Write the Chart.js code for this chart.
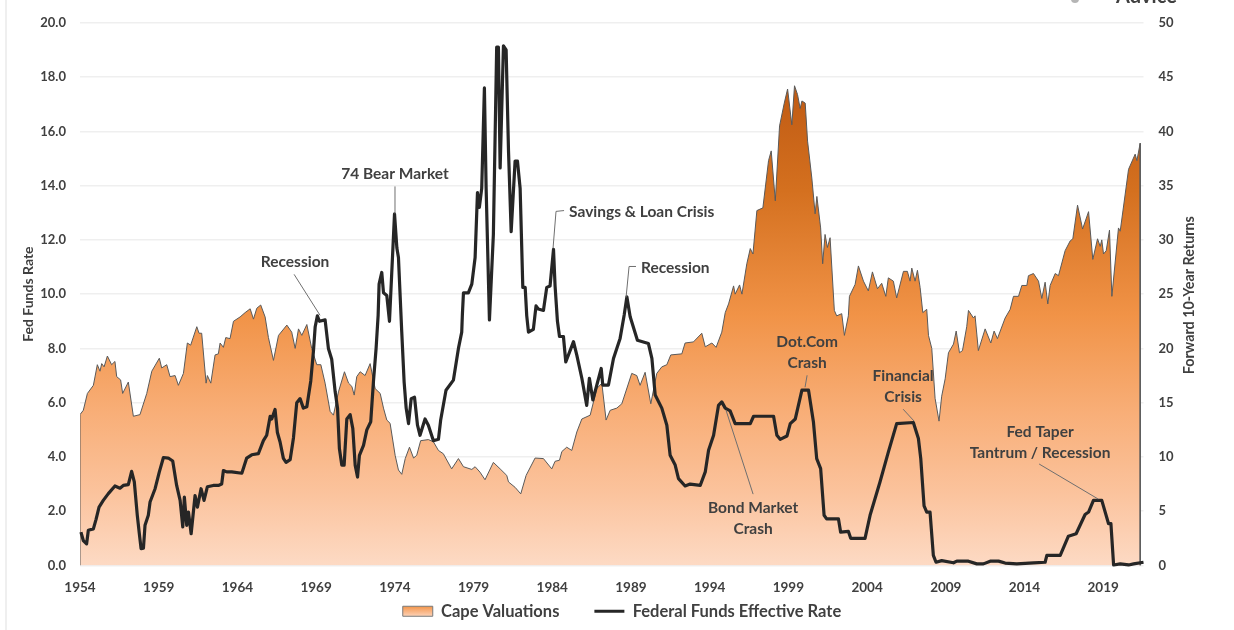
<!DOCTYPE html>
<html>
<head>
<meta charset="utf-8">
<title>Cape Valuations vs Federal Funds Effective Rate</title>
<script src="https://cdn.jsdelivr.net/npm/chart.js@4"></script>
<style>
html,body{margin:0;padding:0;background:#fff;overflow:hidden}
#wrap{position:relative;width:1234px;height:630px}
#edge{position:absolute;left:5px;top:0;width:2px;height:630px;background:#efefef}
canvas{position:absolute;left:0;top:0;filter:blur(0.55px)}
</style>
</head>
<body>
<div id="wrap"><canvas id="c" width="1234" height="630"></canvas><div id="edge"></div></div>
<script>
const xTickYears=[1954,1959,1964,1969,1974,1979,1984,1989,1994,1999,2004,2009,2014,2019];
const xMin=1954, xMax=2021.56;

const capeYears=[1954,1954,1954.21,1954.47,1954.85,1955.10,1955.27,1955.38,1955.53,1955.74,1956.01,1956.22,1956.33,1956.58,1956.71,1957.07,1957.39,1957.81,1958.24,1958.56,1959.04,1959.19,1959.51,1959.72,1960.04,1960.25,1960.57,1960.82,1961.03,1961.42,1961.56,1961.73,1962.01,1962.09,1962.31,1962.58,1962.79,1962.90,1963.11,1963.26,1963.53,1963.75,1964.17,1964.49,1964.81,1965.02,1965.23,1965.48,1965.76,1965.97,1966.29,1966.61,1967.14,1967.45,1967.67,1967.88,1968.09,1968.41,1968.72,1969.04,1969.30,1969.57,1969.89,1970.10,1970.42,1970.80,1971.06,1971.27,1971.42,1971.58,1971.80,1972.11,1972.43,1972.75,1973.07,1973.28,1973.49,1973.70,1974.02,1974.23,1974.44,1974.66,1974.93,1975.19,1975.39,1975.64,1976.13,1976.45,1976.77,1977.08,1977.61,1978.04,1978.36,1978.89,1979.10,1979.41,1979.73,1980.26,1980.69,1981.11,1981.22,1981.64,1982.00,1982.34,1982.91,1983.44,1983.97,1984.18,1984.46,1984.61,1984.92,1985.24,1985.56,1985.88,1986.41,1986.83,1987.15,1987.42,1987.68,1988.10,1988.42,1989.05,1989.37,1989.58,1989.90,1990.26,1990.64,1990.96,1991.28,1991.53,1992.23,1992.44,1992.97,1993.50,1993.72,1994.14,1994.41,1994.77,1994.99,1995.20,1995.52,1995.62,1995.90,1996.05,1996.36,1996.58,1996.75,1997.00,1997.38,1997.74,1997.91,1998.17,1998.44,1998.74,1998.95,1999.22,1999.39,1999.58,1999.75,1999.86,2000.07,2000.22,2000.49,2000.70,2000.81,2001.05,2001.18,2001.33,2001.48,2001.65,2001.92,2002.07,2002.39,2002.56,2002.81,2002.88,2003.24,2003.45,2003.77,2004.08,2004.34,2004.66,2004.93,2005.19,2005.35,2005.67,2005.88,2006.31,2006.56,2006.73,2006.84,2007.05,2007.20,2007.37,2007.54,2007.79,2007.90,2008.11,2008.32,2008.57,2008.74,2008.96,2009.17,2009.49,2009.66,2009.87,2010.06,2010.33,2010.44,2010.76,2010.86,2011.07,2011.50,2011.86,2012.07,2012.28,2012.77,2013.09,2013.30,2013.62,2013.83,2014.15,2014.25,2014.57,2014.89,2015.10,2015.31,2015.48,2015.63,2015.95,2016.16,2016.58,2016.90,2017.07,2017.37,2017.69,2018.07,2018.34,2018.64,2018.81,2018.91,2019.02,2019.19,2019.40,2019.55,2019.97,2020.08,2020.61,2021.03,2021.14,2021.35,2021.35];
const capeValues=[0,13.9,14.3,15.85,16.6,18.5,17.9,18.6,18.3,19.3,18.5,18.8,17.4,17.1,15.85,16.9,13.75,13.9,15.85,17.9,19.1,18.2,18.5,17.4,17.5,16.6,17.7,20.5,20.3,22.0,21.4,21.4,16.8,17.5,16.8,19.4,19.5,20.5,20.1,21.0,20.9,22.5,22.9,23.3,23.65,22.7,23.7,24.0,22.9,21.0,18.9,21.2,22.15,21.5,20.0,21.8,21.2,22.2,20.0,18.5,18.5,16.8,14.2,13.85,16.0,17.85,16.8,16.5,15.7,17.4,17.85,17.5,18.6,16.3,15.85,14.5,13.4,13.1,10.15,8.8,8.4,9.85,10.9,9.9,10.15,11.5,11.6,11.4,10.6,10.3,8.9,9.85,9.1,8.85,9.1,8.6,7.9,9.5,8.9,8.3,7.7,7.2,6.6,8.3,9.9,9.85,8.9,9.6,9.7,10.5,10.9,10.6,12.3,13.5,13.85,16.3,16.8,13.4,14.3,14.5,14.9,17.7,17.5,16.6,17.8,14.9,17.7,18.3,18.5,19.4,19.5,20.5,20.6,21.4,20.15,20.5,20.1,21.5,23.3,24.1,25.76,25,25.85,25,27.8,29.2,28.7,32.7,32.95,37.3,38.2,33.6,40.5,42.6,43.9,40.6,44.2,43.4,42.1,42.8,42.6,39.1,35.7,32.4,34,31.1,27.8,30.5,29.3,30.2,23.5,23,23.2,21.2,23,24.8,25.9,27.6,26.2,25.3,27.05,25.5,26,24.8,26.5,26.2,24.65,27.1,27.1,26.2,27.4,26.2,27.2,25.6,23.3,23.6,21.2,20,15.4,13.3,15.6,17.2,19.6,20.4,21.6,19.6,19.8,22,23.5,22.8,23,19.8,21.8,20.5,21.6,20.9,22.8,23.6,24.8,24.8,25.8,25.8,26.7,26.9,26.2,24.6,26.1,24.1,25.8,26.9,26.7,29,29.9,30.1,33.2,31,32.6,28.2,30.1,29.4,30,28.7,29.0,30.9,24.8,31.1,30.8,36.5,37.9,37.3,38.9,0];

const fundsYears=[1954.06,1954.21,1954.42,1954.53,1954.85,1955.02,1955.21,1955.48,1955.80,1956.22,1956.54,1956.75,1957.07,1957.28,1957.45,1957.64,1957.77,1957.88,1958.03,1958.13,1958.34,1958.45,1958.77,1959.04,1959.30,1959.61,1959.89,1960.14,1960.36,1960.53,1960.63,1960.78,1960.89,1961.06,1961.31,1961.46,1961.69,1961.88,1962.09,1962.47,1962.79,1963.00,1963.11,1963.32,1963.64,1964.28,1964.59,1964.91,1965.33,1965.65,1965.86,1966.08,1966.18,1966.39,1966.54,1966.71,1966.92,1967.09,1967.35,1967.56,1967.77,1967.98,1968.19,1968.41,1968.66,1968.83,1968.94,1969.08,1969.21,1969.57,1969.78,1969.99,1970.21,1970.36,1970.48,1970.63,1970.78,1970.95,1971.16,1971.33,1971.48,1971.63,1971.75,1972.01,1972.22,1972.47,1972.64,1972.81,1972.94,1973.00,1973.17,1973.28,1973.49,1973.66,1973.98,1974.13,1974.23,1974.44,1974.59,1974.72,1974.87,1975.04,1975.25,1975.44,1975.60,1975.92,1976.13,1976.45,1976.77,1976.91,1977.25,1977.72,1978.04,1978.25,1978.29,1978.36,1978.67,1978.89,1979.10,1979.25,1979.37,1979.52,1979.69,1979.80,1980.01,1980.26,1980.47,1980.58,1980.69,1980.90,1981.07,1981.22,1981.39,1981.64,1981.79,1981.96,1982.13,1982.28,1982.38,1982.49,1982.80,1982.97,1983.12,1983.44,1983.65,1983.86,1984.08,1984.18,1984.33,1984.46,1984.71,1984.86,1985.35,1985.56,1985.88,1986.19,1986.36,1986.58,1986.83,1987.11,1987.21,1987.57,1987.89,1988.31,1988.57,1988.74,1988.95,1989.41,1990.11,1990.33,1990.54,1990.96,1991.28,1991.49,1991.81,1992.02,1992.44,1992.76,1993.40,1993.72,1993.93,1994.25,1994.56,1994.77,1994.99,1995.30,1995.62,1996.58,1996.79,1998.06,1998.27,1998.48,1998.91,1999.12,1999.44,1999.86,2000.28,2000.59,2000.80,2001.05,2001.27,2001.43,2002.18,2002.32,2002.81,2002.96,2003.87,2004.19,2004.82,2005.35,2005.88,2006.94,2007.26,2007.41,2007.62,2007.79,2008.00,2008.21,2008.38,2008.74,2009.49,2009.70,2010.44,2010.97,2011.39,2011.82,2012.35,2012.77,2013.51,2014.57,2015.31,2015.42,2016.27,2016.79,2017.28,2017.85,2018.07,2018.38,2018.91,2019.34,2019.49,2019.66,2020.08,2020.61,2020.93,2021.56];
const fundsValues=[1.23,.92,.8,1.3,1.35,1.7,2.15,2.4,2.65,2.93,2.85,2.95,2.98,3.47,3.08,1.85,1.17,.62,.64,1.48,1.85,2.34,2.83,3.45,3.98,3.96,3.85,2.95,2.4,1.42,2.52,1.48,1.97,1.17,2.58,2.15,2.83,2.4,2.9,2.95,2.95,3.0,3.5,3.45,3.45,3.4,3.96,4.08,4.12,4.6,4.8,5.5,5.4,5.75,4.9,4.55,3.95,3.8,3.9,4.7,6.0,6.15,5.8,5.85,6.8,7.9,8.8,9.2,9.0,9.05,8.0,7.6,6.4,5.8,4.3,3.7,3.7,5.4,5.56,5.05,3.7,3.26,4.06,4.43,5,5.3,6.77,8,9.23,10.37,10.8,10.05,9.95,9.0,12.96,11.7,11.35,8.6,6.77,5.8,5.23,6.15,6.2,5.17,4.8,5.4,5.17,4.6,4.65,5.35,6.46,6.83,8,8.6,9.23,10.05,10.05,10.37,11.35,13.74,13.2,13.9,17.6,13.9,9.05,12.2,19.1,19.1,14.65,19.15,19.0,15.3,12.3,14.9,14.9,13.9,10.25,10.25,9.2,8.6,8.7,9.57,9.45,9.4,10.25,10.3,11.65,10.3,9.0,8.44,8.44,7.5,8.25,7.75,6.9,5.9,6.9,6.1,6.65,7.26,6.65,6.65,7.63,8.37,9.23,9.9,9.17,8.3,8.18,7.63,6.28,5.8,5.17,4.06,3.7,3.2,2.93,3.0,2.95,3.45,4.25,4.8,5.9,6.03,5.8,5.7,5.23,5.23,5.5,5.5,4.8,4.65,4.77,5.23,5.4,6.46,6.46,5.3,3.94,3.57,1.85,1.72,1.72,1.23,1.26,1.0,1.0,1.85,3.08,4.18,5.23,5.27,4.68,3.94,2.2,1.97,1.97,.37,.12,.18,.1,.16,.16,.06,.06,.16,.16,.09,.06,.1,.12,.37,.37,1.08,1.17,1.88,1.97,2.4,2.4,1.54,1.54,.02,.06,.02,.06,.12];

const noteLines=[["74 Bear Market"],["Recession"],["Savings & Loan Crisis"],["Recession"],["Dot.Com","Crash"],["Financial","Crisis"],["Fed Taper","Tantrum / Recession"],["Bond Market","Crash"]];
const noteYears=[1974.01,1967.66,1985.07,1989.64,2000.19,2006.29,2014.99,1996.76];
const noteValues=[14.41,11.17,13.01,10.95,8.23,6.97,4.91,2.12];
const noteAlign=["center","center","left","left","center","center","center","center"];
const noteLeaderYears=[[1974.01,1974.01],[1967.6,1969.25],[1984.75,1984.24,1984.05],[1989.32,1988.88,1988.69],[2000.19,2000.06],[2006.29,2006.99],[2014.93,2018.68],[1996.76,1995.04]];
const noteLeaderValues=[[13.97,12.97],[10.73,9.22],[13.08,13.05,11.69],[11.02,11.02,9.88],[7.01,6.57],[5.76,5.32],[3.74,2.45],[2.63,5.72]];

const FONT='Lato, Carlito, sans-serif';
const TEXT='#404040';

function pairs(xs,ys){return xs.map((x,i)=>({x:x,y:ys[i]}));}
function areaGradient(ctx,top,bottom){
  const g=ctx.createLinearGradient(0,top,0,bottom);
  g.addColorStop(0,'#BF5A13');
  g.addColorStop(0.22,'#D4701F');
  g.addColorStop(0.48,'#F19347');
  g.addColorStop(0.68,'#F8AE77');
  g.addColorStop(0.85,'#FBC39D');
  g.addColorStop(1,'#FDDAC4');
  return g;
}

const overlay={
  id:'overlay',
  beforeLayout(chart){
    const L=chart.legend;
    if(!L.__fixed){
      const fit=L.fit;
      L.fit=function(){fit.call(this);this.height=29.5;};
      L.__fixed=true;
    }
  },
  afterLayout(chart){
    const L=chart.legend;
    L.left+=5;L.right+=5;L.top=568;
  },
  afterDatasetsDraw(chart){
    const c=chart.ctx,X=chart.scales.x,Y=chart.scales.y;
    c.save();
    noteLines.forEach((lines,i)=>{
      c.strokeStyle='#6f6f6f';c.lineWidth=1;c.beginPath();
      noteLeaderYears[i].forEach((yr,j)=>{
        const px=X.getPixelForValue(yr),py=Y.getPixelForValue(noteLeaderValues[i][j]);
        if(j===0)c.moveTo(px,py);else c.lineTo(px,py);
      });
      c.stroke();
      c.fillStyle=TEXT;c.font='bold 15.5px '+FONT;c.textAlign=noteAlign[i];c.textBaseline='middle';
      const px=X.getPixelForValue(noteYears[i]),py=Y.getPixelForValue(noteValues[i]);
      const step=Y.getPixelForValue(0)-Y.getPixelForValue(0.77);
      lines.forEach((t,k)=>c.fillText(t,px,py+k*step));
    });
    c.restore();
  },
  afterDraw(chart){
    const c=chart.ctx,R=chart.scales.y1;
    c.save();
    c.fillStyle=TEXT;c.font='bold 14.3px '+FONT;c.textAlign='center';c.textBaseline='middle';
    c.translate(1189,(R.top+R.bottom)/2+1);c.rotate(-Math.PI/2);
    c.fillText('Forward 10-Year Returns',0,0);
    c.restore();
    c.save();
    c.fillStyle=TEXT;c.font='bold 20px '+FONT;c.textAlign='left';c.textBaseline='alphabetic';
    c.fillText('Advice',1116,3);
    c.fillStyle='#b5b5b5';c.beginPath();c.arc(1075,-1,4,0,Math.PI*2);c.fill();
    c.restore();
  }
};

new Chart(document.getElementById('c'),{
  type:'line',
  data:{datasets:[
    {label:'Cape Valuations',yAxisID:'y1',data:pairs(capeYears,capeValues),order:2,
     borderColor:'#5a5a5a',borderWidth:1,pointRadius:0,tension:0,fill:'origin',
     backgroundColor(ctx){
       const a=ctx.chart.chartArea;
       if(!a)return '#F19347';
       return areaGradient(ctx.chart.ctx,a.top+62,a.bottom);
     }},
    {label:'Federal Funds Effective Rate',yAxisID:'y',data:pairs(fundsYears,fundsValues),order:1,
     borderColor:'#262626',backgroundColor:'#262626',borderWidth:3.2,pointRadius:0,tension:0,fill:false,
     borderJoinStyle:'round',clip:false}
  ]},
  options:{
    responsive:false,animation:false,parsing:{xAxisKey:'x',yAxisKey:'y'},
    layout:{padding:{top:22,left:0,right:0,bottom:0}},
    plugins:{
      tooltip:{enabled:false},
      legend:{position:'bottom',
        labels:{usePointStyle:true,pointStyleWidth:30,boxHeight:10,padding:35,color:TEXT,
          font:{family:FONT,weight:'bold',size:16.5},
          generateLabels(chart){
            const h=chart.height;
            return [
              {text:'Cape Valuations',fontColor:TEXT,fillStyle:areaGradient(chart.ctx,h-34,h-13),strokeStyle:'#7a7a7a',lineWidth:1,pointStyle:'rect',datasetIndex:0},
              {text:'Federal Funds Effective Rate',fontColor:TEXT,fillStyle:'#262626',strokeStyle:'#262626',lineWidth:3,pointStyle:'line',datasetIndex:1}
            ];
          }}}
    },
    scales:{
      x:{type:'linear',min:xMin,max:xMax,
        afterBuildTicks(s){s.ticks=xTickYears.map(v=>({value:v}));},
        afterFit(s){s.height=35;},
        grid:{display:false},border:{display:false},
        ticks:{color:TEXT,padding:6,maxRotation:0,autoSkip:false,font:{family:FONT,weight:'bold',size:13.5},callback:v=>String(v)}},
      y:{type:'linear',position:'left',min:0,max:20,
        afterFit(s){s.width=80;},
        grid:{color:'#efefef',lineWidth:1.5,drawTicks:false},border:{display:false},
        ticks:{stepSize:2,padding:14,color:TEXT,font:{family:FONT,weight:'bold',size:13},callback:v=>v.toFixed(1)},
        title:{display:true,text:'Fed Funds Rate',color:TEXT,font:{family:FONT,weight:'bold',size:14},padding:{top:20,bottom:0}}},
      y1:{type:'linear',position:'right',min:0,max:50,
        afterFit(s){s.width=90.5;},
        grid:{drawOnChartArea:false,drawTicks:false},border:{display:false},
        ticks:{stepSize:5,padding:15,color:TEXT,font:{family:FONT,weight:'bold',size:13},callback:v=>String(v)}}
    }
  },
  plugins:[overlay]
});
</script>
</body>
</html>
